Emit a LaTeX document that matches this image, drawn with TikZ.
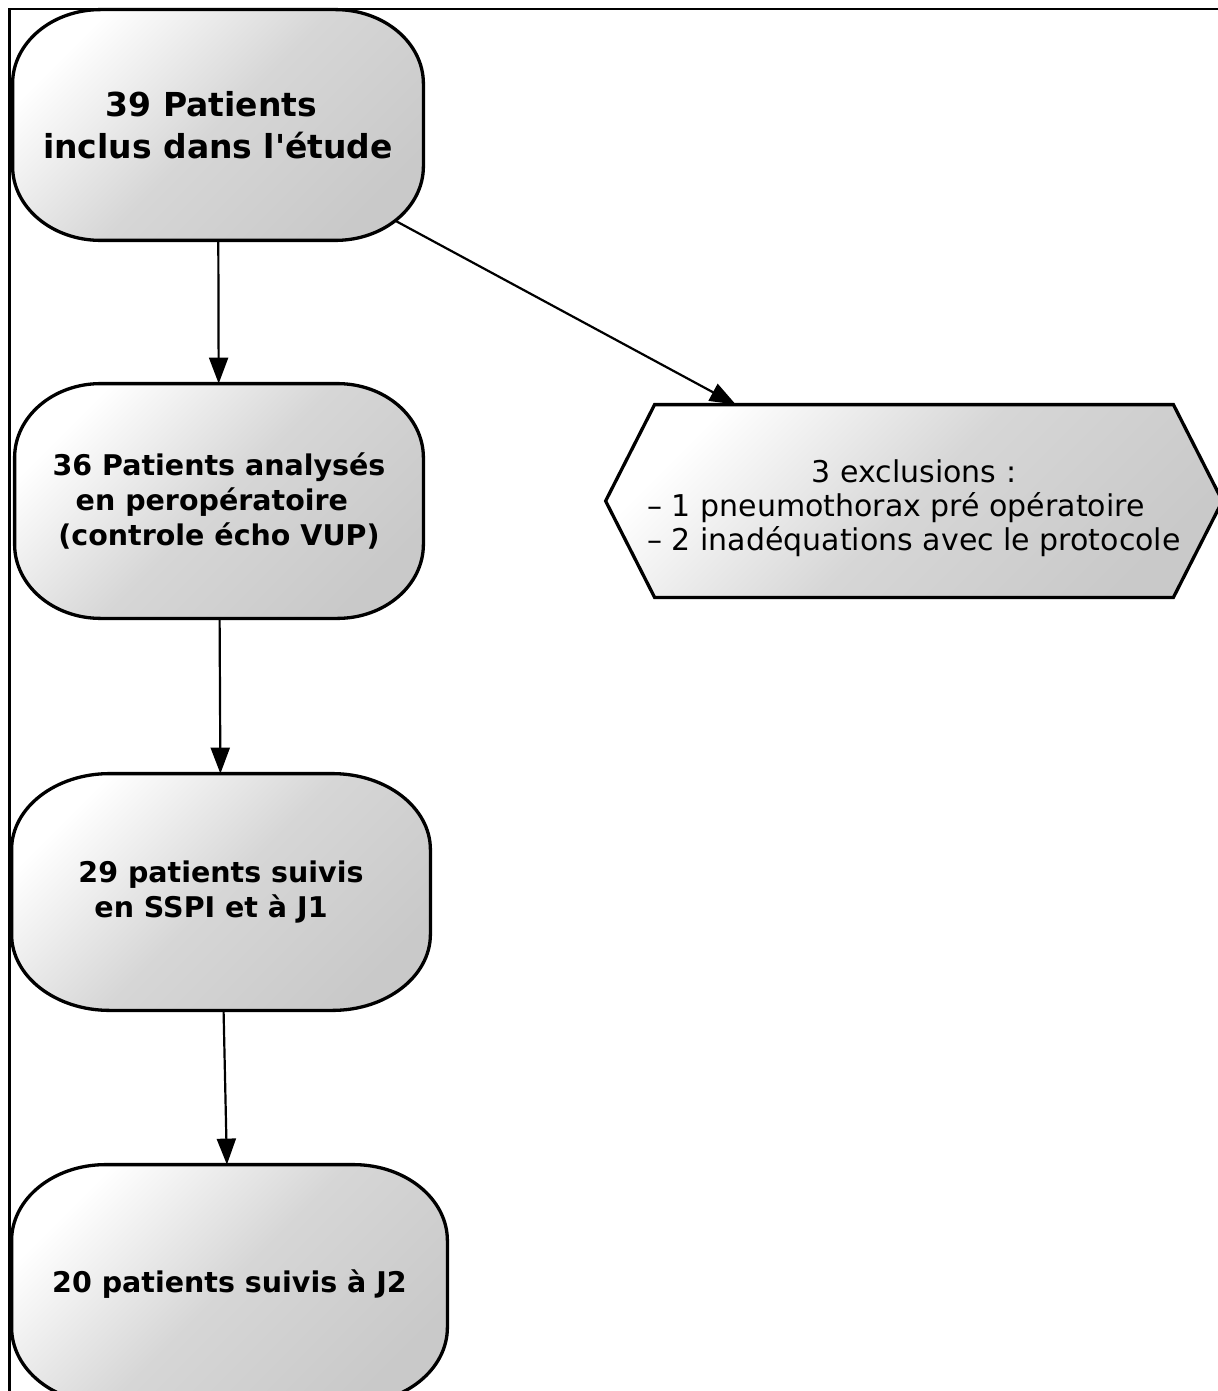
\documentclass[tikz,border=0pt]{standalone}
\usepackage{fontspec}
\setmainfont{DejaVu Sans}[Ligatures=TeXOff]
\usetikzlibrary{arrows.meta}
\pgfdeclarelayer{lines}
\pgfdeclarelayer{shapes}
\pgfsetlayers{lines,shapes,main}
% elliptical-cornered stadium around a node: #1 node, #2 x radius, #3 y radius
\newcommand\stadpath[3]{%
  \path[stadline] ([xshift=#2]#1.north west) -- ([xshift=-#2]#1.north east)
    arc[start angle=90,end angle=0,x radius=#2,y radius=#3]
    -- ([yshift=#3]#1.south east)
    arc[start angle=0,end angle=-90,x radius=#2,y radius=#3]
    -- ([xshift=#2]#1.south west)
    arc[start angle=270,end angle=180,x radius=#2,y radius=#3]
    -- ([yshift=-#3]#1.north west)
    arc[start angle=180,end angle=90,x radius=#2,y radius=#3] -- cycle;}
\begin{document}
\begin{tikzpicture}[x=0.5pt,y=-0.5pt,
  shadefill/.style={top color=white, bottom color=black!21, middle color=black!16, shading angle=45},
  stadline/.style={draw=black, line width=1.65pt, shadefill},
  stad/.style={inner sep=0pt, align=center,
    font=\fontsize{14.25pt}{17.5pt}\selectfont\bfseries},
  hexbox/.style={inner sep=0pt, align=center, font=\fontsize{15pt}{16.8pt}\selectfont},
  hexline/.style={draw=black, line width=1.65pt, shadefill, line join=miter},
  conn/.style={line width=1.1pt, -{Triangle[length=13pt,width=9.5pt]}},
  frameline/.style={line width=1.3pt}]
\useasboundingbox (0,0) rectangle (1218,1391);

\node[stad, minimum width=205pt, minimum height=115pt,
  font=\fontsize{16.5pt}{21pt}\selectfont\bfseries] (n1) at (218,125)
  {39 Patients\kern0.4em\\inclus dans l'étude};
\node[stad, minimum width=204pt, minimum height=117pt] (n2) at (219,501)
  {36 Patients analysés\\en peropératoire\kern0.5em\\(controle écho VUP)};
\node[stad, minimum width=209pt, minimum height=118pt] (n3) at (221,892)
  {29 patients suivis\\en SSPI et à J1\kern0.7em};
\node[stad, minimum width=217.5pt, minimum height=119pt] (n4) at (229.5,1284)
  {20 patients suivis à J2};
\node[hexbox, minimum width=308pt, minimum height=96pt] (hex) at (914,501)
  {\raisebox{-4.5pt}[\height][\depth]{\begin{tabular}{@{}l@{}}\multicolumn{1}{@{}c@{}}{3 exclusions :}\\– 1 pneumothorax pré opératoire\\– 2 inadéquations avec le protocole\end{tabular}}};

\begin{pgfonlayer}{shapes}
  \stadpath{n1}{44pt}{37pt}
  \stadpath{n2}{43pt}{37pt}
  \stadpath{n3}{49pt}{38pt}
  \stadpath{n4}{47pt}{38pt}
  \path[hexline] (hex.west) -- ([xshift=24.5pt]hex.north west) -- ([xshift=-24.5pt]hex.north east)
    -- (hex.east) -- ([xshift=-24.5pt]hex.south east) -- ([xshift=24.5pt]hex.south west) -- cycle;
\end{pgfonlayer}

\begin{pgfonlayer}{lines}
  \draw[frameline] (9.5,9) -- (1218,9);
  \draw[frameline] (9.5,8.4) -- (9.5,1391);
  \draw[conn] (n1) -- (n2);
  \draw[conn] (n1.center) -- (hex);
  \draw[conn] (n2) -- (n3);
  \draw[conn] (n3) -- (n4);
\end{pgfonlayer}
\end{tikzpicture}
\end{document}
